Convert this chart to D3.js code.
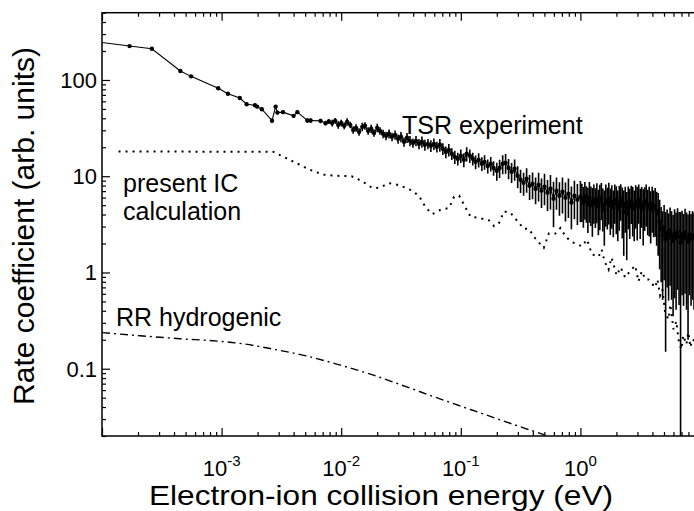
<!DOCTYPE html>
<html>
<head>
<meta charset="utf-8">
<script src="https://cdn.jsdelivr.net/npm/d3@7"></script>
<style>
  body { margin: 0; background: #fff; }
  text { font-family: Arial, "Liberation Sans", sans-serif; fill: #000; }
</style>
</head>
<body>
<div id="chart"></div>
<script>
// TSR experiment: energy (eV), rate coefficient, absolute error
var tsrEnergy = [
  0.95e-4, 1.70e-4, 2.61e-4, 4.52e-4, 5.55e-4, 9.37e-4, 1.13e-3, 1.42e-3, 1.62e-3, 1.90e-3,
  1.98e-3, 2.17e-3, 2.64e-3, 2.83e-3, 2.93e-3, 3.26e-3, 4.00e-3, 4.30e-3, 5.21e-3, 5.55e-3,
  6.72e-3, 7.40e-3, 7.88e-3,
  0.00841, 0.00891, 0.00944,
  0.0100, 0.0106, 0.0112, 0.0119, 0.0126, 0.0133, 0.0141, 0.0150, 0.0158, 0.0168,
  0.0178, 0.0188, 0.0200, 0.0211, 0.0224, 0.0237, 0.0251, 0.0266, 0.0282, 0.0299,
  0.0316, 0.0335, 0.0355, 0.0376, 0.0398, 0.0422, 0.0447, 0.0473, 0.0501, 0.0531,
  0.0562, 0.0596, 0.0631, 0.0668, 0.0708, 0.0750, 0.0794, 0.0841, 0.0891, 0.0944,
  0.100, 0.106, 0.112, 0.119, 0.126, 0.133, 0.141, 0.150, 0.158, 0.168,
  0.178, 0.188, 0.200, 0.211, 0.224, 0.237, 0.251, 0.266, 0.282, 0.299,
  0.316, 0.335, 0.355, 0.376, 0.398, 0.422, 0.447, 0.473, 0.501, 0.531,
  0.562, 0.596, 0.631, 0.668, 0.708, 0.750, 0.794, 0.841, 0.891, 0.944,
  1.000,
  1.029, 1.059, 1.090, 1.122, 1.155, 1.189, 1.223, 1.259, 1.296, 1.334,
  1.373, 1.413, 1.454, 1.496, 1.540, 1.585, 1.631, 1.679, 1.728, 1.778,
  1.830, 1.884, 1.939, 1.995, 2.054, 2.113, 2.175, 2.239, 2.304, 2.371,
  2.441, 2.512, 2.585, 2.661, 2.738, 2.818, 2.901, 2.985, 3.073, 3.162,
  3.255, 3.350, 3.447, 3.548, 3.652, 3.758, 3.868, 3.981, 4.097, 4.217,
  4.340, 4.467, 4.597, 4.732, 4.870, 5.012, 5.158, 5.309, 5.464, 5.623,
  5.788, 5.957, 6.131, 6.310, 6.494, 6.683, 6.879, 7.079, 7.286, 7.499,
  7.718, 7.943, 8.175, 8.414, 8.660, 8.913
];
var tsrRate = [
  247, 225, 211, 124, 109, 82, 72, 65, 56, 54.7,
  52.9, 49.7, 37.8, 52.9, 45.8, 46.3, 42.4, 46.3, 37.9, 37.9,
  37.6, 35.6, 37.0,
  35.8, 37.6, 34.2,
  35.8, 33.4, 36.7, 34.2, 30.3, 31.8, 28.9, 32.6, 33.4, 29.6,
  31.1, 28.2, 31.8, 29.6, 27.6, 26.3, 27.6, 25.7, 26.9, 24.5,
  25.7, 22.8, 25.1, 23.3, 22.2, 23.3, 21.7, 22.8, 21.2, 21.7,
  20.7, 21.7, 20.2, 21.2, 19.3, 17.9, 18.8, 17.1, 15.9, 15.2,
  16.3, 14.8, 17.1, 16.3, 15.2, 14.1, 14.8, 13.5, 14.1, 12.8,
  13.5, 12.2, 11.4, 12.2, 13.5, 13.8, 12.2, 11.1, 11.95, 10.1,
  9.20, 8.56, 9.42, 7.97, 8.36, 7.42, 8.17, 7.08, 7.78, 6.75,
  7.42, 5.85, 7.08, 6.28, 6.91, 5.99, 6.59, 5.32, 6.28, 5.71,
  6.13,
  5.85, 5.32, 6.13, 5.58, 5.07, 5.99, 5.44, 4.95, 5.71, 5.19,
  5.85, 4.83, 5.44, 5.99, 5.07, 4.50, 5.58, 5.19, 5.85, 4.95,
  5.44, 4.72, 5.71, 5.19, 4.61, 5.32, 5.85, 4.95, 4.29, 5.19,
  4.09, 5.32, 4.83, 5.58, 5.07, 4.61, 5.44, 4.95, 5.71, 4.83,
  5.32, 4.61, 5.19, 5.58, 4.83, 5.07, 4.50, 5.19, 4.72, 4.95,
  4.39, 4.09, 3.38, 2.79, 2.42, 2.93, 2.20, 2.60, 2.31, 2.73,
  2.42, 2.15, 2.54, 2.31, 2.66, 2.36, 2.05, 2.48, 2.25, 2.60,
  2.31, 2.10, 2.48, 2.25, 2.42, 2.31
];
var tsrError = [
  2, 2, 2, 2, 2, 2, 2, 2, 2, 2,
  2, 2, 2, 2, 2, 2, 2, 2, 2, 2,
  2, 2, 2,
  2.9, 2.6, 3.1,
  2.9, 2.7, 3.3, 2.7, 2.7, 2.9, 2.6, 3.3, 3.0, 2.7,
  3.1, 2.5, 3.2, 2.7, 2.8, 2.6, 3.0, 2.6, 2.9, 2.7,
  3.1, 2.5, 3.0, 2.8, 2.4, 2.8, 2.6, 3.0, 2.8, 2.6,
  2.9, 3.0, 2.6, 3.2, 2.7, 2.5, 2.8, 2.4, 2.5, 2.3,
  2.6, 2.4, 2.9, 2.6, 2.3, 2.3, 2.5, 2.2, 2.4, 2.1,
  2.3, 2.1, 2.4, 2.6, 3.0, 3.2, 2.9, 2.6, 3.0, 2.6,
  2.5, 2.3, 2.7, 2.3, 2.6, 2.3, 2.7, 2.4, 2.8, 2.4,
  2.9, 2.9, 2.6, 2.4, 2.8, 2.6, 2.9, 2.5, 2.7, 2.6,
  2.8,
  2.5, 2.4, 2.6, 2.3, 2.5, 2.7, 2.4, 2.6, 2.5, 2.3,
  2.6, 2.4, 2.7, 2.5, 2.4, 2.6, 2.6, 2.4, 2.7, 2.5,
  2.6, 2.4, 2.5, 2.7, 2.5, 2.6, 2.4, 2.7, 2.8, 2.6,
  2.75, 2.5, 2.6, 2.4, 2.7, 2.5, 2.6, 2.8, 2.5, 2.6,
  2.4, 2.7, 2.5, 2.6, 2.4, 2.7, 2.5, 2.6, 2.4, 2.6,
  2.5, 2.6, 2.3, 2.0, 1.9, 2.1, 2.05, 1.9, 1.8, 2.0,
  1.9, 1.8, 2.0, 1.9, 2.0, 1.9, 2.2, 1.9, 1.8, 2.0,
  1.9, 1.9, 1.9, 1.8, 1.9, 1.9
];

// present IC calculation
var icEnergy = [
  1.375e-4, 6.6e-4, 1.42e-3, 2.69e-3, 3.26e-3, 4.22e-3, 5.44e-3, 7.03e-3, 9.14e-3, 0.0122,
  0.0151, 0.0183, 0.0208, 0.0252, 0.0306, 0.0393, 0.0449, 0.0511, 0.0580, 0.0681,
  0.0798, 0.0879, 0.0968, 0.110, 0.121, 0.142, 0.172, 0.190, 0.209, 0.230,
  0.261, 0.287, 0.337, 0.371, 0.422, 0.494, 0.544, 0.619, 0.681, 0.750,
  0.826, 0.909, 1.031, 1.135, 1.25, 1.42, 1.505, 1.594, 1.72, 1.82,
  2.01, 2.17, 2.37, 2.58, 2.87, 3.06, 3.26, 3.50, 3.71, 4.22,
  4.41, 4.64, 4.85, 5.11, 5.45, 5.65, 6.00, 6.35, 6.60, 6.98,
  7.26, 7.69, 8.00, 8.30, 8.63, 9.33
];
var icRate = [
  18.1, 18.0, 18.0, 18.0, 16.0, 13.7, 11.7, 10.4, 10.1, 10.0,
  8.83, 7.52, 7.6, 8.46, 8.07, 7.08, 6.18, 4.68, 4.04, 4.50,
  4.68, 6.13, 6.28, 4.68, 3.78, 3.69, 3.48, 3.02, 3.27, 4.32,
  4.16, 3.60, 2.84, 2.84, 2.23, 1.80, 2.54, 2.54, 2.91, 2.38,
  2.11, 2.00, 1.87, 2.20, 1.54, 1.46, 1.73, 1.30, 1.07, 1.43,
  0.931, 1.13, 0.887, 1.02, 1.18, 0.807, 1.03, 0.846, 0.846, 0.699,
  0.846, 0.578, 0.667, 0.385, 0.326, 0.466, 0.257, 0.311, 0.202, 0.159,
  0.222, 0.179, 0.239, 0.167, 0.202, 0.19
];

// RR hydrogenic
var rrEnergy = [1.0e-4, 2.08e-4, 4.49e-4, 1.0e-3, 1.42e-3, 2.68e-3, 5.11e-3, 9.68e-3, 0.01834, 0.0348,
                0.0660, 0.151, 0.348, 0.505];
var rrRate = [0.237, 0.220, 0.205, 0.192, 0.1835, 0.160, 0.1358, 0.1095, 0.0863, 0.0651,
              0.0489, 0.0342, 0.0239, 0.0205];

var xMajor = [1e-4, 1e-3, 1e-2, 1e-1, 1, 10];
var xLabels = [{v: 1e-3, exp: "-3"}, {v: 1e-2, exp: "-2"}, {v: 1e-1, exp: "-1"}, {v: 1, exp: "0"}];
var yMajor = [0.1, 1, 10, 100];
var yLabels = ["0.1", "1", "10", "100"];

var width = 694, height = 511;
var plotLeft = 102, plotRight = 700, plotTop = 12.7, plotBottom = 436;

var svg = d3.select("#chart").append("svg")
  .attr("width", width)
  .attr("height", height);

var x = d3.scaleLog().domain([1e-4, 10]).range([plotLeft, plotRight]);
var y = d3.scaleLog().domain([0.02, 500]).range([plotBottom, plotTop]);

// minor ticks 2..9 in each decade
var xMinor = [];
xMajor.slice(0, -1).forEach(function(d) {
  for (var m = 2; m <= 9; m++) xMinor.push(d * m);
});
var yMinor = [];
[0.01, 0.1, 1, 10, 100].forEach(function(d) {
  for (var m = 2; m <= 9; m++) {
    var v = d * m;
    if (v >= 0.02 && v <= 500) yMinor.push(v);
  }
});

svg.append("clipPath").attr("id", "plot")
  .append("rect")
  .attr("x", plotLeft).attr("y", plotTop)
  .attr("width", plotRight - plotLeft).attr("height", plotBottom - plotTop);

var plot = svg.append("g").attr("clip-path", "url(#plot)");

var line = d3.line().x(function(d) { return x(d[0]); }).y(function(d) { return y(d[1]); });

// RR hydrogenic, dash-dot
plot.append("path")
  .datum(rrEnergy.map(function(e, i) { return [e, rrRate[i]]; }))
  .attr("fill", "none")
  .attr("stroke", "#000")
  .attr("stroke-width", 1.4)
  .attr("stroke-dasharray", "8,4,2,4")
  .attr("d", line.curve(d3.curveMonotoneX));

// IC calculation, dotted
plot.append("path")
  .datum(icEnergy.map(function(e, i) { return [e, icRate[i]]; }))
  .attr("fill", "none")
  .attr("stroke", "#000")
  .attr("stroke-width", 2)
  .attr("stroke-dasharray", "2,5")
  .attr("d", line.curve(d3.curveLinear));

// TSR experiment
var tsr = tsrEnergy.map(function(e, i) { return {e: e, v: tsrRate[i], err: tsrError[i]}; });

plot.append("path")
  .datum(tsr.map(function(d) { return [d.e, d.v]; }))
  .attr("fill", "none")
  .attr("stroke", "#000")
  .attr("stroke-width", 1.1)
  .attr("d", line);

plot.selectAll(".err")
  .data(tsr)
  .enter()
  .append("line")
  .attr("class", "err")
  .attr("x1", function(d) { return x(d.e); })
  .attr("x2", function(d) { return x(d.e); })
  .attr("y1", function(d) { return y(d.v + d.err); })
  .attr("y2", function(d) { return d.v - d.err > 0.02 ? y(d.v - d.err) : plotBottom; })
  .attr("stroke", "#000")
  .attr("stroke-width", 1.6);

plot.selectAll(".dot")
  .data(tsr)
  .enter()
  .append("circle")
  .attr("class", "dot")
  .attr("cx", function(d) { return x(d.e); })
  .attr("cy", function(d) { return y(d.v); })
  .attr("r", 2.2)
  .attr("fill", "#000");

// frame and ticks (inward)
function ticks(axis, pos, values, size) {
  svg.append("g")
    .attr("transform", pos)
    .call(axis.tickValues(values).tickSizeInner(-size).tickSizeOuter(0).tickFormat(""))
    .call(function(g) { g.select(".domain").remove(); });
}
ticks(d3.axisBottom(x), "translate(0," + plotBottom + ")", xMajor, 8);
ticks(d3.axisBottom(x), "translate(0," + plotBottom + ")", xMinor, 4);
ticks(d3.axisTop(x), "translate(0," + plotTop + ")", xMajor, 8);
ticks(d3.axisTop(x), "translate(0," + plotTop + ")", xMinor, 4);
ticks(d3.axisLeft(y), "translate(" + plotLeft + ",0)", yMajor, 8);
ticks(d3.axisLeft(y), "translate(" + plotLeft + ",0)", yMinor, 4);
svg.selectAll(".tick line").attr("stroke", "#000").attr("stroke-width", 1.2);

svg.append("rect")
  .attr("x", plotLeft).attr("y", plotTop)
  .attr("width", plotRight - plotLeft).attr("height", plotBottom - plotTop)
  .attr("fill", "none")
  .attr("stroke", "#000")
  .attr("stroke-width", 1.5);

// tick labels
yMajor.forEach(function(v, i) {
  svg.append("text")
    .attr("x", plotLeft - 5)
    .attr("y", y(v))
    .attr("dy", "0.36em")
    .attr("text-anchor", "end")
    .style("font-size", "22px")
    .text(yLabels[i]);
});

xLabels.forEach(function(d) {
  var t = svg.append("text")
    .attr("x", x(d.v))
    .attr("y", plotBottom + 40)
    .attr("text-anchor", "middle")
    .style("font-size", "22px");
  t.append("tspan").text("10");
  t.append("tspan").attr("dy", -10).style("font-size", "15px").text(d.exp);
});

// axis titles
svg.append("text")
  .attr("transform", "translate(381,505) scale(1.13,1)")
  .attr("text-anchor", "middle")
  .style("font-size", "28px")
  .text("Electron-ion collision energy (eV)");

svg.append("text")
  .attr("transform", "translate(34,226) rotate(-90)")
  .attr("text-anchor", "middle")
  .style("font-size", "30px")
  .text("Rate coefficient (arb. units)");

// curve labels
svg.append("text").attr("x", 402).attr("y", 134).style("font-size", "25px").text("TSR experiment");
svg.append("text").attr("x", 123).attr("y", 192).style("font-size", "25px").text("present IC");
svg.append("text").attr("x", 123).attr("y", 219.5).style("font-size", "25px").text("calculation");
svg.append("text").attr("x", 116).attr("y", 326).style("font-size", "25px").text("RR hydrogenic");
</script>
</body>
</html>
